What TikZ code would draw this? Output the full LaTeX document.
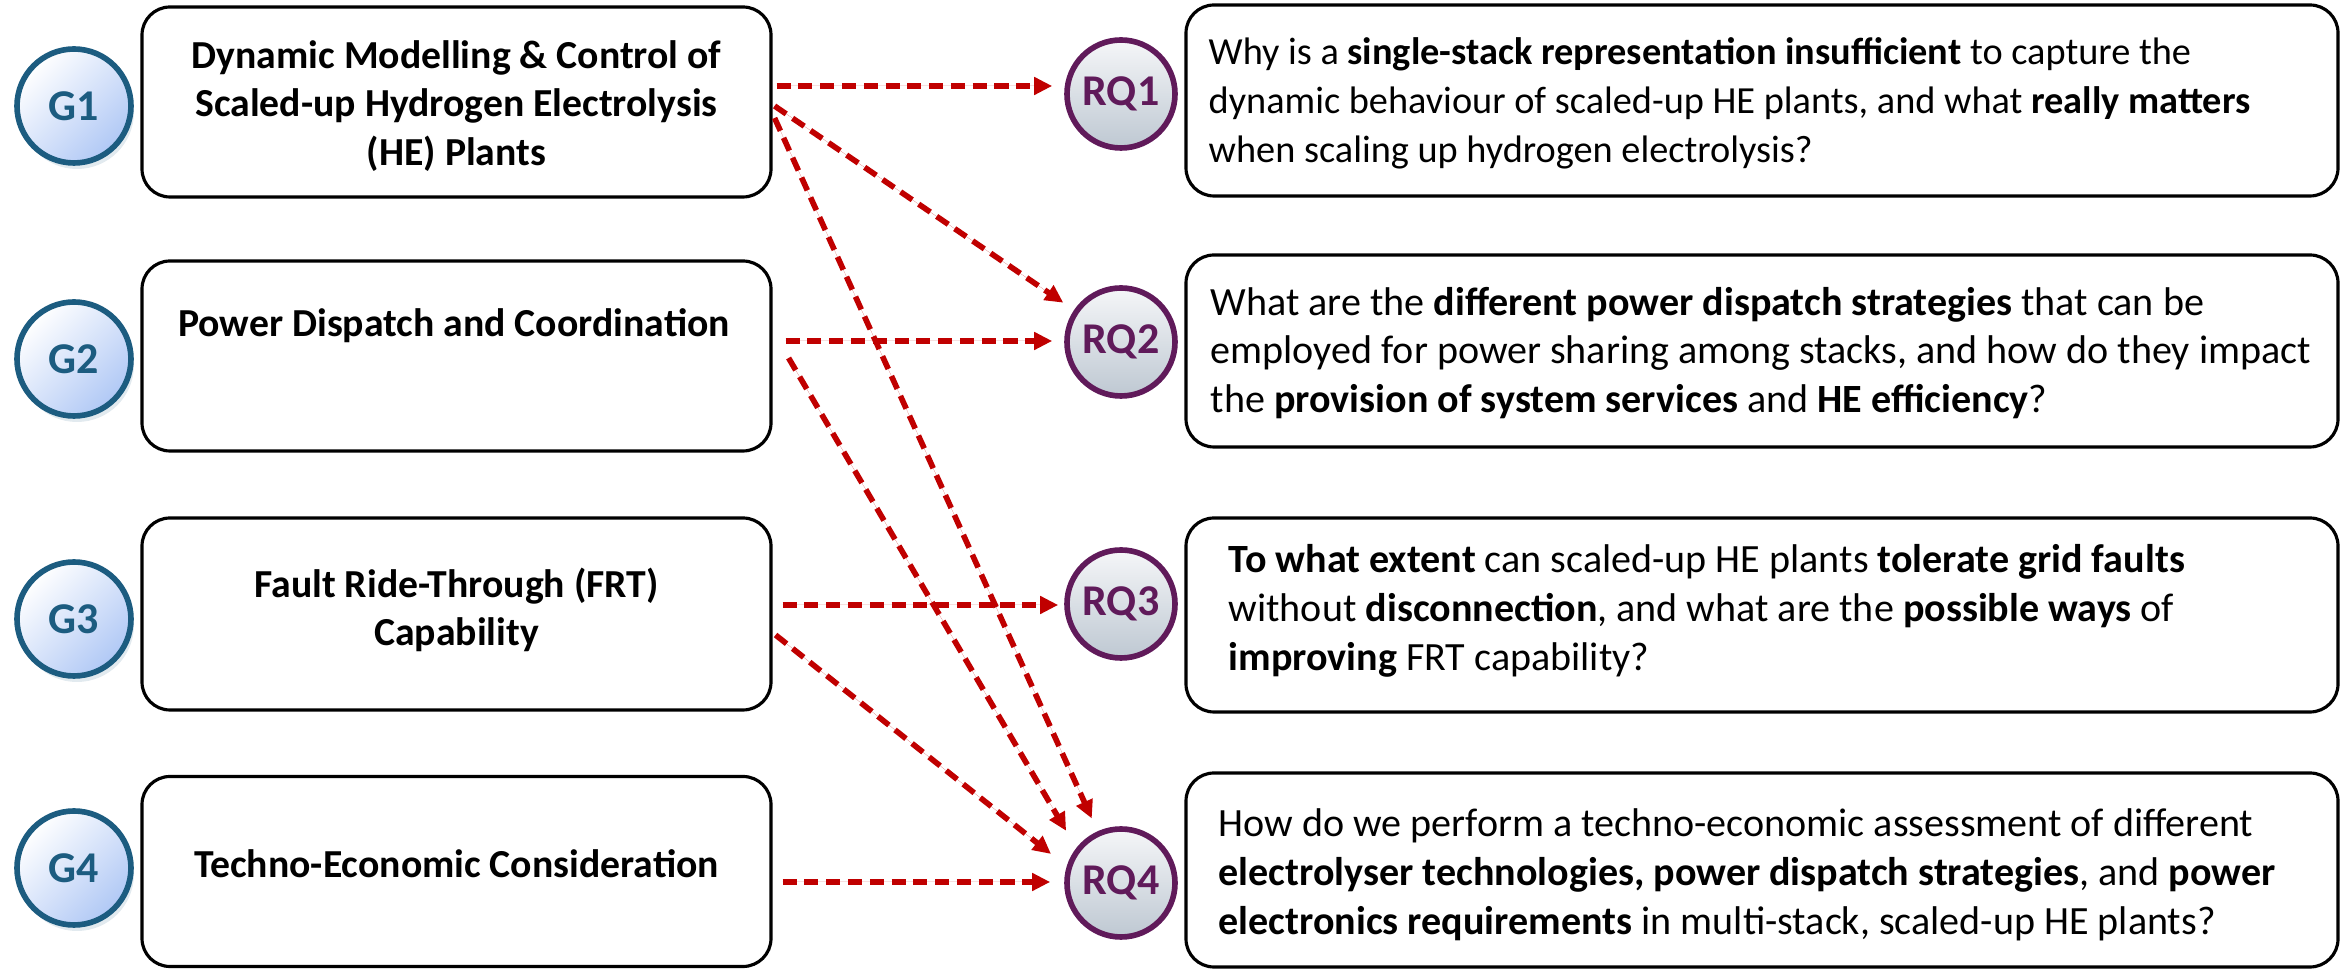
\documentclass[tikz,border=0pt]{standalone}
\usepackage{fontspec}
\setmainfont{Carlito}
\usetikzlibrary{arrows.meta,shadows,calc}
\definecolor{gblue}{RGB}{28,92,128}
\definecolor{gfill}{RGB}{176,200,245}
\definecolor{rqpurple}{RGB}{96,26,90}
\definecolor{rqtop}{RGB}{245,246,248}
\definecolor{rqbot}{RGB}{190,200,210}
\definecolor{arrred}{RGB}{192,0,0}
\tikzset{
  gcirc/.style={circle, draw=gblue, line width=1.6pt, minimum size=1.14cm, inner sep=0pt,
    font=\fontsize{12.5pt}{14pt}\selectfont\bfseries, text=gblue,
    top color=white, bottom color=gfill, shading angle=45,
    drop shadow={shadow xshift=0.03cm, shadow yshift=-0.06cm, opacity=0.25, fill=gblue!50}},
  rqcirc/.style={circle, draw=rqpurple, line width=1.6pt, minimum size=1.08cm, inner sep=0pt,
    font=\fontsize{12.5pt}{14pt}\selectfont\bfseries, text=rqpurple,
    top color=rqtop, bottom color=rqbot},
  lbox/.style={draw, rounded corners=0.28cm, line width=0.9pt, minimum width=6.29cm,
    minimum height=1.90cm, inner sep=0pt},
  rbox/.style={draw, rounded corners=0.28cm, line width=0.9pt, minimum width=11.52cm,
    minimum height=1.92cm, inner sep=0pt},
  ltext/.style={font=\fontsize{11.3pt}{13.8pt}\selectfont\bfseries, align=center, inner sep=0pt},
  rtext/.style={font=\fontsize{11.4pt}{13.9pt}\selectfont, align=left, anchor=west, inner sep=0pt},
  arr/.style={draw=arrred, line width=1.6pt, dash pattern=on 4pt off 2.2pt,
    -{Triangle[length=0.18cm, width=0.17cm]}, fill=arrred}
}
\begin{document}
\begin{tikzpicture}
\useasboundingbox (0,0) rectangle (23.43,-9.71);

% left boxes
\node[lbox] (g1box) at (4.565,-1.02) {};
\node[lbox] (g2box) at (4.565,-3.56) {};
\node[lbox, minimum height=1.92cm] (g3box) at (4.565,-6.14) {};
\node[lbox] (g4box) at (4.565,-8.715) {};

\node[ltext] (g1txt) at (4.565,-1.06) {Dynamic Modelling \& Control of\\Scaled-up Hydrogen Electrolysis\\(HE) Plants};
\node[ltext] (g2txt) at (4.54,-3.26) {Power Dispatch and Coordination};
\node[ltext] (g3txt) at (4.565,-6.10) {Fault Ride-Through (FRT)\\Capability};
\node[ltext] (g4txt) at (4.565,-8.64) {Techno-Economic Consideration};

% G circles
\node[gcirc] (g1) at (0.74,-1.06) {G1};
\node[gcirc] (g2) at (0.74,-3.59) {G2};
\node[gcirc] (g3) at (0.74,-6.19) {G3};
\node[gcirc] (g4) at (0.74,-8.68) {G4};

% RQ circles
\node[rqcirc] (rq1) at (11.21,-0.94) {RQ1};
\node[rqcirc] (rq2) at (11.21,-3.42) {RQ2};
\node[rqcirc] (rq3) at (11.21,-6.04) {RQ3};
\node[rqcirc] (rq4) at (11.21,-8.83) {RQ4};

% right boxes
\node[rbox, minimum height=1.91cm] (rq1box) at (17.62,-1.005) {};
\node[rbox] (rq2box) at (17.62,-3.51) {};
\node[rbox, minimum height=1.94cm] (rq3box) at (17.62,-6.15) {};
\node[rbox, minimum height=1.94cm] (rq4box) at (17.62,-8.70) {};

\node[rtext, font=\fontsize{10.9pt}{13.9pt}\selectfont] (rq1txt) at (12.08,-1.03) {Why is a \textbf{single-stack representation insufficient} to capture the\\dynamic behaviour of scaled-up HE plants, and what \textbf{really matters}\\when scaling up hydrogen electrolysis?};
\node[rtext] (rq2txt) at (12.10,-3.53) {What are the \textbf{different power dispatch strategies} that can be\\employed for power sharing among stacks, and how do they impact\\the \textbf{provision of system services} and \textbf{HE efficiency}?};
\node[rtext] (rq3txt) at (12.28,-6.11) {\textbf{To what extent} can scaled-up HE plants \textbf{tolerate grid faults}\\without \textbf{disconnection}, and what are the \textbf{possible ways} of\\\textbf{improving} FRT capability?};
\node[rtext] (rq4txt) at (12.18,-8.75) {How do we perform a techno-economic assessment of different\\\textbf{electrolyser technologies, power dispatch strategies}, and \textbf{power}\\\textbf{electronics requirements} in multi-stack, scaled-up HE plants?};

% connector start points
\coordinate (s11) at ([shift={(0.04,0.16)}]g1box.east);
\coordinate (s12) at ([shift={(0.02,-0.04)}]g1box.east);
\coordinate (s14) at ([shift={(0.02,-0.16)}]g1box.east);
\coordinate (s22) at ([shift={(0.13,0.15)}]g2box.east);
\coordinate (s24) at ([shift={(0.16,-0.02)}]g2box.east);
\coordinate (s33) at ([shift={(0.10,0.09)}]g3box.east);
\coordinate (s34) at ([shift={(0.03,-0.21)}]g3box.east);
\coordinate (s44) at ([shift={(0.10,-0.105)}]g4box.east);

% connectors
\draw[arr, shorten >=0.12cm] (s11) -- (s11 -| rq1.west);
\draw[arr, shorten >=0.13cm] (s12) -- (rq2);
\draw[arr, shorten >=0.14cm] (s14) -- (rq4);
\draw[arr, shorten >=0.12cm] (s22) -- (s22 -| rq2.west);
\draw[arr, shorten >=0.20cm] (s24) -- (rq4.142);
\draw[arr, shorten >=0.06cm] (s33) -- (s33 -| rq3.west);
\draw[arr, shorten >=0.20cm] (s34) -- (rq4.163);
\draw[arr, shorten >=0.14cm] (s44) -- (s44 -| rq4.west);
\end{tikzpicture}
\end{document}
